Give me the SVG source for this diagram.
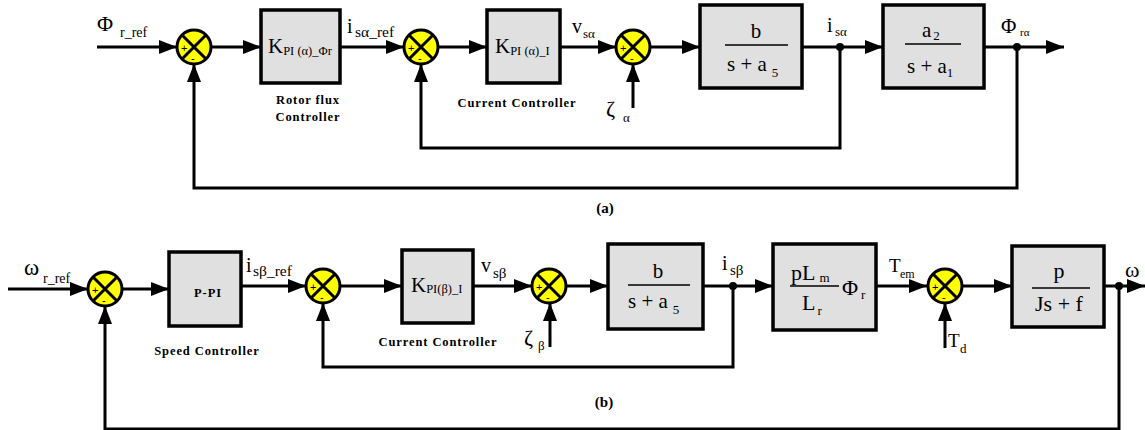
<svg xmlns="http://www.w3.org/2000/svg" width="1145" height="430" viewBox="0 0 1145 430">
<defs>
<marker id="arr" markerUnits="userSpaceOnUse" markerWidth="18" markerHeight="14" refX="18" refY="7" orient="auto">
<path d="M0,0 L18,7 L0,14 z" fill="#000"/>
</marker>
<style>
.blk{fill:#e0e0e0;stroke:#000;stroke-width:3.5}
.sum{fill:#ffff00;stroke:#000;stroke-width:3}
.x{stroke:#000;stroke-width:3}
.ar{fill:none;stroke:#000;stroke-width:3;marker-end:url(#arr)}
.dot{fill:#000}
text{font-family:'Liberation Serif','DejaVu Serif',serif;fill:#000}
.b{font-weight:bold}
.cap{font-weight:bold;font-size:12.5px;letter-spacing:0.9px}
.pm{font-family:'Liberation Sans','DejaVu Sans',sans-serif;font-size:11px}
.frac{stroke:#000;stroke-width:1.3}
</style>
</defs>

<g id="connectors">
<path class="ar" d="M97,47 H177"/>
<path class="ar" d="M211,47 H261"/>
<path class="ar" d="M340,47 H404"/>
<path class="ar" d="M438,47 H487"/>
<path class="ar" d="M560,47 H616"/>
<path class="ar" d="M650,47 H700"/>
<path class="ar" d="M802,47 H883"/>
<path class="ar" d="M984,47 H1064"/>
<path class="ar" d="M840,47 V148 H421 V64"/>
<path class="ar" d="M1017,47 V188 H194 V64"/>
<path class="ar" d="M633,108 V64"/>
<path class="ar" d="M8,289 H88"/>
<path class="ar" d="M122,289 H169"/>
<path class="ar" d="M241,286 H306"/>
<path class="ar" d="M340,286 H402"/>
<path class="ar" d="M473,286 H532"/>
<path class="ar" d="M566,286 H608"/>
<path class="ar" d="M703,286 H773"/>
<path class="ar" d="M876,286 H927"/>
<path class="ar" d="M962,286 H1012"/>
<path class="ar" d="M1104,286 H1145"/>
<path class="ar" d="M550,347 V303"/>
<path class="ar" d="M945,348 V303"/>
<path class="ar" d="M733,286 V367 H323 V303"/>
<path class="ar" d="M1119,286 V429 H105 V306"/>
<circle class="dot" cx="840" cy="47" r="4"/>
<circle class="dot" cx="1017" cy="47" r="4"/>
<circle class="dot" cx="733" cy="286" r="4"/>
<circle class="dot" cx="1119" cy="286" r="4"/>
</g>

<g id="sum1">
<circle class="sum" cx="194" cy="47" r="17"/>
<path class="x" d="M182,35 L206,59 M206,35 L182,59"/>
<text class="pm" x="181" y="52">+</text><text class="pm" x="191" y="62">-</text>
</g>
<g id="kpi-phi">
<rect class="blk" x="261" y="10" width="79" height="73"/>
<text x="268" y="53" font-size="21">K<tspan font-size="12.5" dy="2">PI (α)_Φr</tspan></text>
</g>
<g id="sum2">
<circle class="sum" cx="421" cy="47" r="17"/>
<path class="x" d="M409,35 L433,59 M433,35 L409,59"/>
<text class="pm" x="408" y="52">+</text><text class="pm" x="418" y="62">-</text>
</g>
<g id="kpi-ia">
<rect class="blk" x="487" y="10" width="73" height="73"/>
<text x="495" y="53" font-size="21">K<tspan font-size="12.5" dy="2">PI (α)_I</tspan></text>
</g>
<g id="sum3">
<circle class="sum" cx="633" cy="47" r="17"/>
<path class="x" d="M621,35 L645,59 M645,35 L621,59"/>
<text class="pm" x="620" y="52">+</text><text class="pm" x="630" y="62">-</text>
</g>
<g id="plant-a">
<rect class="blk" x="700" y="5" width="102" height="83"/>
<text x="756" y="38" font-size="21" text-anchor="middle">b</text>
<line class="frac" x1="725" y1="45" x2="788" y2="45"/>
<text x="727" y="71" font-size="21">s + a<tspan font-size="13" dx="5" dy="6">5</tspan></text>
</g>
<g id="flux-a">
<rect class="blk" x="883" y="5" width="101" height="83"/>
<text x="922" y="37" font-size="21">a<tspan font-size="13" dx="2" dy="3">2</tspan></text>
<line class="frac" x1="905" y1="44" x2="961" y2="44"/>
<text x="907" y="73" font-size="21">s + a<tspan font-size="13" dy="4">1</tspan></text>
</g>
<g id="labels-a">
<text x="97" y="31" font-size="22">Φ<tspan font-size="14" x="120" y="37">r_ref</tspan></text>
<text class="cap" x="308" y="104" text-anchor="middle">Rotor flux</text>
<text class="cap" x="308" y="121" text-anchor="middle">Controller</text>
<text x="347" y="33" font-size="20">i<tspan font-size="15.5" x="355" y="37">sα_ref</tspan></text>
<text class="cap" x="517" y="107" text-anchor="middle">Current Controller</text>
<text x="572" y="33" font-size="20">v<tspan font-size="13" x="583" y="38">sα</tspan></text>
<text x="606" y="116" font-size="22">ζ<tspan font-size="13" x="623" y="122">α</tspan></text>
<text x="827" y="32" font-size="20">i<tspan font-size="13" x="835" y="36">sα</tspan></text>
<text x="1001" y="33" font-size="21">Φ<tspan font-size="11" x="1020" y="36">rα</tspan></text>
<text class="b" x="605" y="213" font-size="15" text-anchor="middle">(a)</text>
</g>

<g id="sum4">
<circle class="sum" cx="105" cy="289" r="17"/>
<path class="x" d="M93,277 L117,301 M117,277 L93,301"/>
<text class="pm" x="92" y="294">+</text><text class="pm" x="102" y="304">-</text>
</g>
<g id="ppi">
<rect class="blk" x="169" y="252" width="72" height="74"/>
<text class="cap" x="208" y="297" text-anchor="middle">P-PI</text>
</g>
<g id="sum5">
<circle class="sum" cx="323" cy="286" r="17"/>
<path class="x" d="M311,274 L335,298 M335,274 L311,298"/>
<text class="pm" x="310" y="291">+</text><text class="pm" x="320" y="301">-</text>
</g>
<g id="kpi-ib">
<rect class="blk" x="402" y="250" width="71" height="73"/>
<text x="411" y="292" font-size="21">K<tspan font-size="12.5" dy="1">PI(β)_I</tspan></text>
</g>
<g id="sum6">
<circle class="sum" cx="549" cy="286" r="17"/>
<path class="x" d="M537,274 L561,298 M561,274 L537,298"/>
<text class="pm" x="536" y="291">+</text><text class="pm" x="546" y="301">-</text>
</g>
<g id="plant-b">
<rect class="blk" x="608" y="244" width="95" height="85"/>
<text x="658" y="278" font-size="21" text-anchor="middle">b</text>
<line class="frac" x1="628" y1="285" x2="690" y2="285"/>
<text x="628" y="308" font-size="21">s + a<tspan font-size="13" dx="5" dy="6">5</tspan></text>
</g>
<g id="torque">
<rect class="blk" x="773" y="244" width="103" height="86"/>
<text x="791" y="280" font-size="22">pL<tspan font-size="13" dx="4" dy="2">m</tspan></text>
<line class="frac" x1="790" y1="286" x2="839" y2="286"/>
<text x="802" y="310" font-size="22">L<tspan font-size="13" dx="2" dy="5">r</tspan></text>
<text x="842" y="295" font-size="22">Φ<tspan font-size="13" dx="3" dy="4">r</tspan></text>
</g>
<g id="sum7">
<circle class="sum" cx="945" cy="286" r="17"/>
<path class="x" d="M933,274 L957,298 M957,274 L933,298"/>
<text class="pm" x="932" y="291">+</text><text class="pm" x="942" y="301">-</text>
</g>
<g id="mech">
<rect class="blk" x="1012" y="246" width="92" height="81"/>
<text x="1059" y="278" font-size="22" text-anchor="middle">p</text>
<line class="frac" x1="1032" y1="288" x2="1090" y2="288"/>
<text x="1059" y="311" font-size="22" text-anchor="middle">Js + f</text>
</g>
<g id="labels-b">
<text x="24" y="275" font-size="23">ω<tspan font-size="14" x="43" y="283">r_ref</tspan></text>
<text class="cap" x="207" y="355" text-anchor="middle">Speed Controller</text>
<text x="246" y="272" font-size="20">i<tspan font-size="15.5" x="253" y="276">sβ_ref</tspan></text>
<text class="cap" x="438" y="346" text-anchor="middle">Current Controller</text>
<text x="481" y="272" font-size="20">v<tspan font-size="15" x="493" y="278">sβ</tspan></text>
<text x="524" y="345" font-size="22">ζ<tspan font-size="13" x="538" y="350">β</tspan></text>
<text x="722" y="270" font-size="20">i<tspan font-size="15" x="730" y="275">sβ</tspan></text>
<text x="889" y="272" font-size="19">T<tspan font-size="12" x="900" y="278">em</tspan></text>
<text x="948" y="347" font-size="19">T<tspan font-size="13" x="960" y="353">d</tspan></text>
<text x="1125" y="277" font-size="22">ω</text>
<text class="b" x="604" y="407" font-size="15" text-anchor="middle">(b)</text>
</g>
</svg>
